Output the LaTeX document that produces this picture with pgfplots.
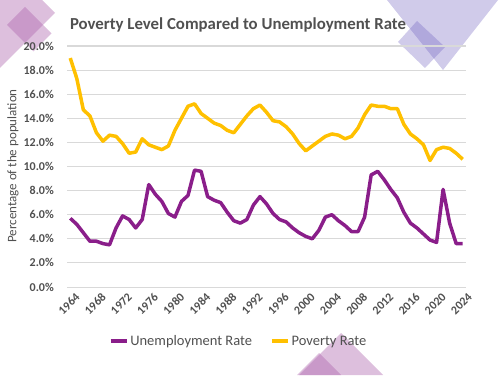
\documentclass[border=0pt]{standalone}
\usepackage{pgfplots}
\usepackage{pgfplotstable}
\pgfplotsset{compat=1.18}
\usepackage{fontspec}
\setmainfont{Carlito}
\definecolor{unemp}{RGB}{138,30,138}
\definecolor{pov}{RGB}{255,192,0}
\definecolor{txt}{RGB}{80,80,80}
\definecolor{gridc}{RGB}{217,217,217}
\definecolor{pinkdeco}{RGB}{170,95,170}
\definecolor{lavdeco}{RGB}{112,96,192}
\newcommand{\tickfont}{\fontsize{12}{14}\selectfont\bfseries}

\pgfplotstableread{
idx unemp pov
0 5.7 19.0
1 5.2 17.3
2 4.5 14.7
3 3.8 14.2
4 3.8 12.8
5 3.6 12.1
6 3.5 12.6
7 4.9 12.5
8 5.9 11.9
9 5.6 11.1
10 4.9 11.2
11 5.6 12.3
12 8.5 11.8
13 7.7 11.6
14 7.1 11.4
15 6.1 11.7
16 5.8 13.0
17 7.1 14.0
18 7.6 15.0
19 9.7 15.2
20 9.6 14.4
21 7.5 14.0
22 7.2 13.6
23 7.0 13.4
24 6.2 13.0
25 5.5 12.8
26 5.3 13.5
27 5.6 14.2
28 6.8 14.8
29 7.5 15.1
30 6.9 14.5
31 6.1 13.8
32 5.6 13.7
33 5.4 13.3
34 4.9 12.7
35 4.5 11.9
36 4.2 11.3
37 4.0 11.7
38 4.7 12.1
39 5.8 12.5
40 6.0 12.7
41 5.5 12.6
42 5.1 12.3
43 4.6 12.5
44 4.6 13.2
45 5.8 14.3
46 9.3 15.1
47 9.6 15.0
48 8.9 15.0
49 8.1 14.8
50 7.4 14.8
51 6.2 13.5
52 5.3 12.7
53 4.9 12.3
54 4.4 11.8
55 3.9 10.5
56 3.7 11.4
57 8.1 11.6
58 5.3 11.5
59 3.6 11.1
60 3.6 10.6
}\datatable

\begin{document}
\begin{tikzpicture}[x=1pt,y=1pt]
\useasboundingbox (0,0) rectangle (500,375);
\begin{scope}
\clip (0,0) rectangle (500,375);
% top-left decoration
\fill[pinkdeco, opacity=0.4] (0,417) -- (55,362) -- (0,307) -- cycle;
\fill[pinkdeco, opacity=0.4] (25,368) -- (7,350) -- (33.5,323.5) -- (51.5,341.5) -- cycle;
% top-right decoration
\fill[lavdeco, opacity=0.33] (387,375) -- (498,375) -- (443,305) -- cycle;
\fill[lavdeco, opacity=0.33] (417,354) -- (398,333) -- (425,307) -- (445,328) -- cycle;
% bottom decoration
\fill[pinkdeco, opacity=0.4] (341,42) -- (383,0) -- (299,0) -- cycle;
\fill[pinkdeco, opacity=0.4] (319,22) -- (341,0) -- (297,0) -- cycle;
\end{scope}

\node[font=\bfseries\fontsize{16.8}{20}\selectfont, text=txt] at (238,350) {Poverty Level Compared to Unemployment Rate};
\node[rotate=90, font=\fontsize{13}{15}\selectfont, text=txt] at (13,209) {Percentage of the population};

\begin{axis}[
  at={(67pt,88pt)}, anchor=south west,
  width=399pt, height=241pt, scale only axis,
  xmin=-0.5, xmax=60.5, ymin=0, ymax=20,
  axis line style={draw=none},
  major tick length=0pt,
  ymajorgrids, grid style={gridc, line width=1pt},
  ytick={0,2,...,20},
  yticklabels={{\tickfont 0.0\%},{\tickfont 2.0\%},{\tickfont 4.0\%},{\tickfont 6.0\%},{\tickfont 8.0\%},{\tickfont 10.0\%},{\tickfont 12.0\%},{\tickfont 14.0\%},{\tickfont 16.0\%},{\tickfont 18.0\%},{\tickfont 20.0\%}},
  yticklabel style={text=txt, anchor=east, inner sep=0pt, xshift=-13pt},
  xtick={0,4,...,60},
  xticklabels={{\tickfont 1964},{\tickfont 1968},{\tickfont 1972},{\tickfont 1976},{\tickfont 1980},{\tickfont 1984},{\tickfont 1988},{\tickfont 1992},{\tickfont 1996},{\tickfont 2000},{\tickfont 2004},{\tickfont 2008},{\tickfont 2012},{\tickfont 2016},{\tickfont 2020},{\tickfont 2024}},
  xticklabel style={text=txt, rotate=45, anchor=east, inner sep=0pt, yshift=-11pt, xshift=-0.5pt},
  legend columns=2,
  legend style={at={(0.43,-0.225)}, anchor=center, draw=none, fill=none,
    font=\fontsize{14.5}{17}\selectfont, text=txt,
    /tikz/every even column/.append style={column sep=16pt}},
  legend image code/.code={\draw[#1] (0pt,0pt) -- (16pt,0pt);},
  every axis plot/.append style={line width=3.5pt, line join=round, no markers},
]
\addplot[unemp] table[x=idx, y=unemp] {\datatable};
\addlegendentry{Unemployment Rate}
\addplot[pov] table[x=idx, y=pov] {\datatable};
\addlegendentry{Poverty Rate}
\end{axis}
\end{tikzpicture}
\end{document}
